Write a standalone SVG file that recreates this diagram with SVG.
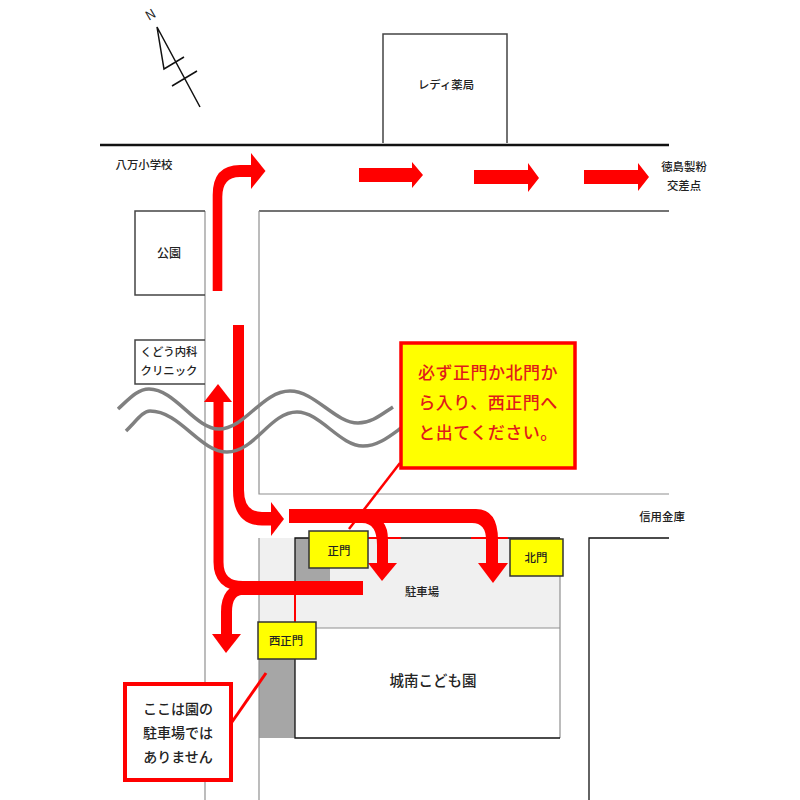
<svg xmlns="http://www.w3.org/2000/svg" width="800" height="800" viewBox="0 0 800 800">
<defs>
<style>
text{font-family:"Noto Sans CJK JP","Liberation Sans",sans-serif;text-anchor:middle;fill:#222;font-size:11.400px;font-weight:500;dominant-baseline:central}
.g{fill:none;stroke:#909090;stroke-width:1.2}
.d{fill:none;stroke:#444;stroke-width:1.5}
.k{fill:none;stroke:#111;stroke-width:1.3}
.y{fill:#ff0;stroke:#333;stroke-width:1.5}
.r{fill:none;stroke:#f00}
.a{fill:#f00;stroke:none}
.w{fill:none;stroke:#808080;stroke-width:3.5}
</style>
</defs>
<rect width="800" height="800" fill="#fff"/>
<g id="roads">
<path d="M100 145H669" fill="none" stroke="#111" stroke-width="2.5"/>
<path class="d" d="M259 211H669"/>
<path class="g" d="M259 211V494H669"/>
<path class="g" d="M205 211V800"/>
<path class="g" d="M259 738V800"/>
<path class="k" d="M589 800V538H669"/>
</g>
<g id="north">
<path d="M200 107L157 27L164 69L184 57M172 86L197 71" fill="none" stroke="#111" stroke-width="1.5"/>
<text x="150" y="14" transform="rotate(-30 150 14)" style="font-size:13px;font-weight:400">N</text>
</g>
<g id="store"><path class="d" d="M383 143V34H507V143" stroke-width="1.2"/><text x="446" y="84">レディ薬局</text></g>
<g id="school"><text x="144" y="164">八万小学校</text></g>
<g id="park"><path class="d" d="M205 211H135V295H205"/><text x="169" y="252" style="font-size:12px">公園</text></g>
<g id="clinic"><path class="d" d="M205 340H135V384H205" stroke-width="1"/><text x="169" y="351">くどう内科</text><text x="169" y="370">クリニック</text></g>
<g id="tokushima"><text x="684" y="166">徳島製粉</text><text x="684" y="185">交差点</text></g>
<g id="bank"><text x="662" y="516">信用金庫</text></g>
<g id="site">
<rect x="259" y="538" width="301" height="90" fill="#f0f0f0"/>
<rect x="295" y="538" width="35" height="44" fill="#a6a6a6"/>
<rect x="259" y="659" width="36" height="79" fill="#a6a6a6"/>
<path class="g" d="M259 538V628M560 538V738M259 628H560M259 659V738"/>
<path class="k" d="M295 582V538H560M295 659V738H560"/>
<path class="r" stroke-width="2" d="M368 538H401M471 538H508M295 582V622"/>
<text x="422" y="591">駐車場</text>
<text x="433" y="679" style="font-size:14.500px">城南こども園</text>
</g>
<g id="connectors">
<path class="a" d="M212.700 291V195Q212.700 165 240 165H252V177H240Q222.300 177 222.300 197V291Z"/>
<path class="a" d="M251 153L265.500 171L251 189Z"/>
<path class="a" d="M359 168H412V162L423 175L412 188V182H359Z"/>
<path class="a" d="M474 170H528V163L539 178L528 192V184H474Z"/>
<path class="a" d="M584 170H638V163L649 177L638 191V184H584Z"/>
<path class="a" d="M233 325H244V490Q244 512 262 512H272V525.500H262Q233 525 233 490Z"/>
<path class="a" d="M271 502L284 519L271 536Z"/>
<path class="r" stroke-width="10" d="M218.500 400V562Q218.500 586 243 586"/>
<path class="a" d="M218 384L232 402H204Z"/>
<path class="r" stroke-width="14" d="M363 588H240"/>
<path class="r" stroke-width="11" d="M245 589Q226.500 589 226.500 612V636"/>
<path class="a" d="M212 634H241L226 653Z"/>
<path class="a" d="M289 509H476Q498 509 498 540V565H486V540Q486 523 472 523H289Z"/>
<path class="a" d="M478 563H508L493 583Z"/>
<path class="a" d="M355 523H362Q377 523 377 545V565H388V540Q388 516 368 516H355Z"/>
<path class="a" d="M368 563H397L382 581Z"/>
<path class="r" stroke-width="2.500" d="M400 463L349 529"/>
<path class="r" stroke-width="3" d="M232 722L266 673"/>
</g>
<g id="waves">
<path class="w" d="M118 409C130 398 138 389 149 389C175 389 195 429 219 429C245 429 262 391 290 391C315 391 335 423 358 423C372 423 382 414 393 407"/>
<path class="w" d="M126 431C137 420 143 411 150 411C180 411 200 452 227 452C255 452 270 412 297 412C320 412 340 446 363 446C378 446 390 436 401 428"/>
</g>
<g id="gate-main"><rect class="y" x="309" y="531" width="59" height="37"/><text x="339" y="550">正門</text></g>
<g id="gate-north"><rect class="y" x="510" y="539" width="53" height="37"/><text x="536" y="557">北門</text></g>
<g id="gate-west"><rect class="y" x="258" y="622" width="58" height="37"/><text x="286" y="640">西正門</text></g>
<g id="note-red">
<rect x="401" y="343" width="174" height="125" fill="#ff0" stroke="#f00" stroke-width="3.500"/>
<text x="488" y="371" style="fill:#e01a1a;font-size:17px;letter-spacing:.5px">必ず正門か北門か</text>
<text x="488" y="401" style="fill:#e01a1a;font-size:17px;letter-spacing:.5px">ら入り、西正門へ</text>
<text x="488" y="431" style="fill:#e01a1a;font-size:17px;letter-spacing:.5px">と出てください。</text>
</g>
<g id="note-white">
<rect x="125" y="684" width="106" height="96" fill="#fff" stroke="#f00" stroke-width="4"/>
<text x="178" y="708" style="font-size:14px">ここは園の</text>
<text x="178" y="732" style="font-size:14px">駐車場では</text>
<text x="178" y="756" style="font-size:14px">ありません</text>
</g>
</svg>
